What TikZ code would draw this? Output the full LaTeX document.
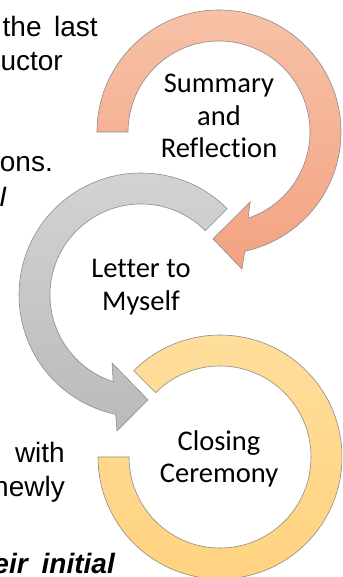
\documentclass[tikz,border=0pt]{standalone}
\usepackage{fontspec}
\setmainfont{Liberation Sans}
\newfontfamily\ringfont[Ligatures=NoCommon]{Carlito}
\usepackage{tikz}
\usetikzlibrary{calc}
\newcommand{\outerrad}{122}
\newcommand{\innerrad}{91}
\tikzstyle{ring}=[draw=black!45, line width=0.6pt, line join=miter]
\tikzstyle{ringtext}=[align=center, inner sep=0, font=\ringfont\fontsize{28.5}{32.5}\selectfont]
\tikzstyle{bodytext}=[anchor=base east, inner sep=0, font=\fontsize{28}{34}\selectfont]
\definecolor{salmontop}{HTML}{F7C1A6}
\definecolor{salmonbot}{HTML}{F3A382}
\definecolor{greytop}{HTML}{D4D4D4}
\definecolor{greybot}{HTML}{BABABA}
\definecolor{goldtop}{HTML}{FFDE9C}
\definecolor{goldbot}{HTML}{FFD27E}
\begin{document}
\begin{tikzpicture}[x=1pt, y=1pt]
    \useasboundingbox (0,0) rectangle (342,577);
    \clip (0,0) rectangle (342,577);
    \coordinate (sum) at (219,445);
    \coordinate (let) at (141,282);
    \coordinate (clo) at (220,120);
    % closing ring
    \draw[ring, top color=goldtop, bottom color=goldbot]
        ($(clo)+(135:\outerrad)$) arc[start angle=135, end angle=-180, radius=\outerrad]
        -- ($(clo)+(180:\innerrad)$) arc[start angle=-180, end angle=135, radius=\innerrad] -- cycle;
    % letter arrow
    \draw[ring, top color=greytop, bottom color=greybot]
        ($(let)+(45:\outerrad)$) arc[start angle=45, end angle=258, radius=\outerrad]
        -- ($(let)+(260:138)$) -- ($(let)+(273.8:105)$) -- ($(let)+(247:74)$)
        -- ($(let)+(252.2:\innerrad)$) arc[start angle=252.2, end angle=45, radius=\innerrad] -- cycle;
    % summary arrow
    \draw[ring, top color=salmontop, bottom color=salmonbot]
        ($(sum)+(180:\outerrad)$) arc[start angle=180, end angle=-77.8, radius=\outerrad]
        -- ($(sum)+(-80.5:139)$) -- ($(sum)+(-93.2:107)$) -- ($(sum)+(-66:76.6)$)
        -- ($(sum)+(-71.4:\innerrad)$) arc[start angle=-71.4, end angle=180, radius=\innerrad] -- cycle;
    \node[ringtext] (sumtext) at (219,461) {Summary\\and\\Reflection};
    \node[ringtext] (lettext) at (141,290) {Letter to\\Myself};
    \node[ringtext] (clotext) at (219,118) {Closing\\Ceremony};
    % cut-off body text on the left
    \node[bodytext] (line1) at (98,540) {the\hspace{0.45em}last};
    \node[bodytext] (line2) at (63,506) {uctor};
    \node[bodytext] (line3) at (53,405) {ons.};
    \node[bodytext] (line4) at (7,370) {\itshape I};
    \node[bodytext] (line5) at (65,114) {with};
    \node[bodytext] (line6) at (65,80) {newly};
    \node[bodytext] (line7) at (115,3) {\bfseries\itshape eir\hspace{0.5em}initial};
\end{tikzpicture}
\end{document}
